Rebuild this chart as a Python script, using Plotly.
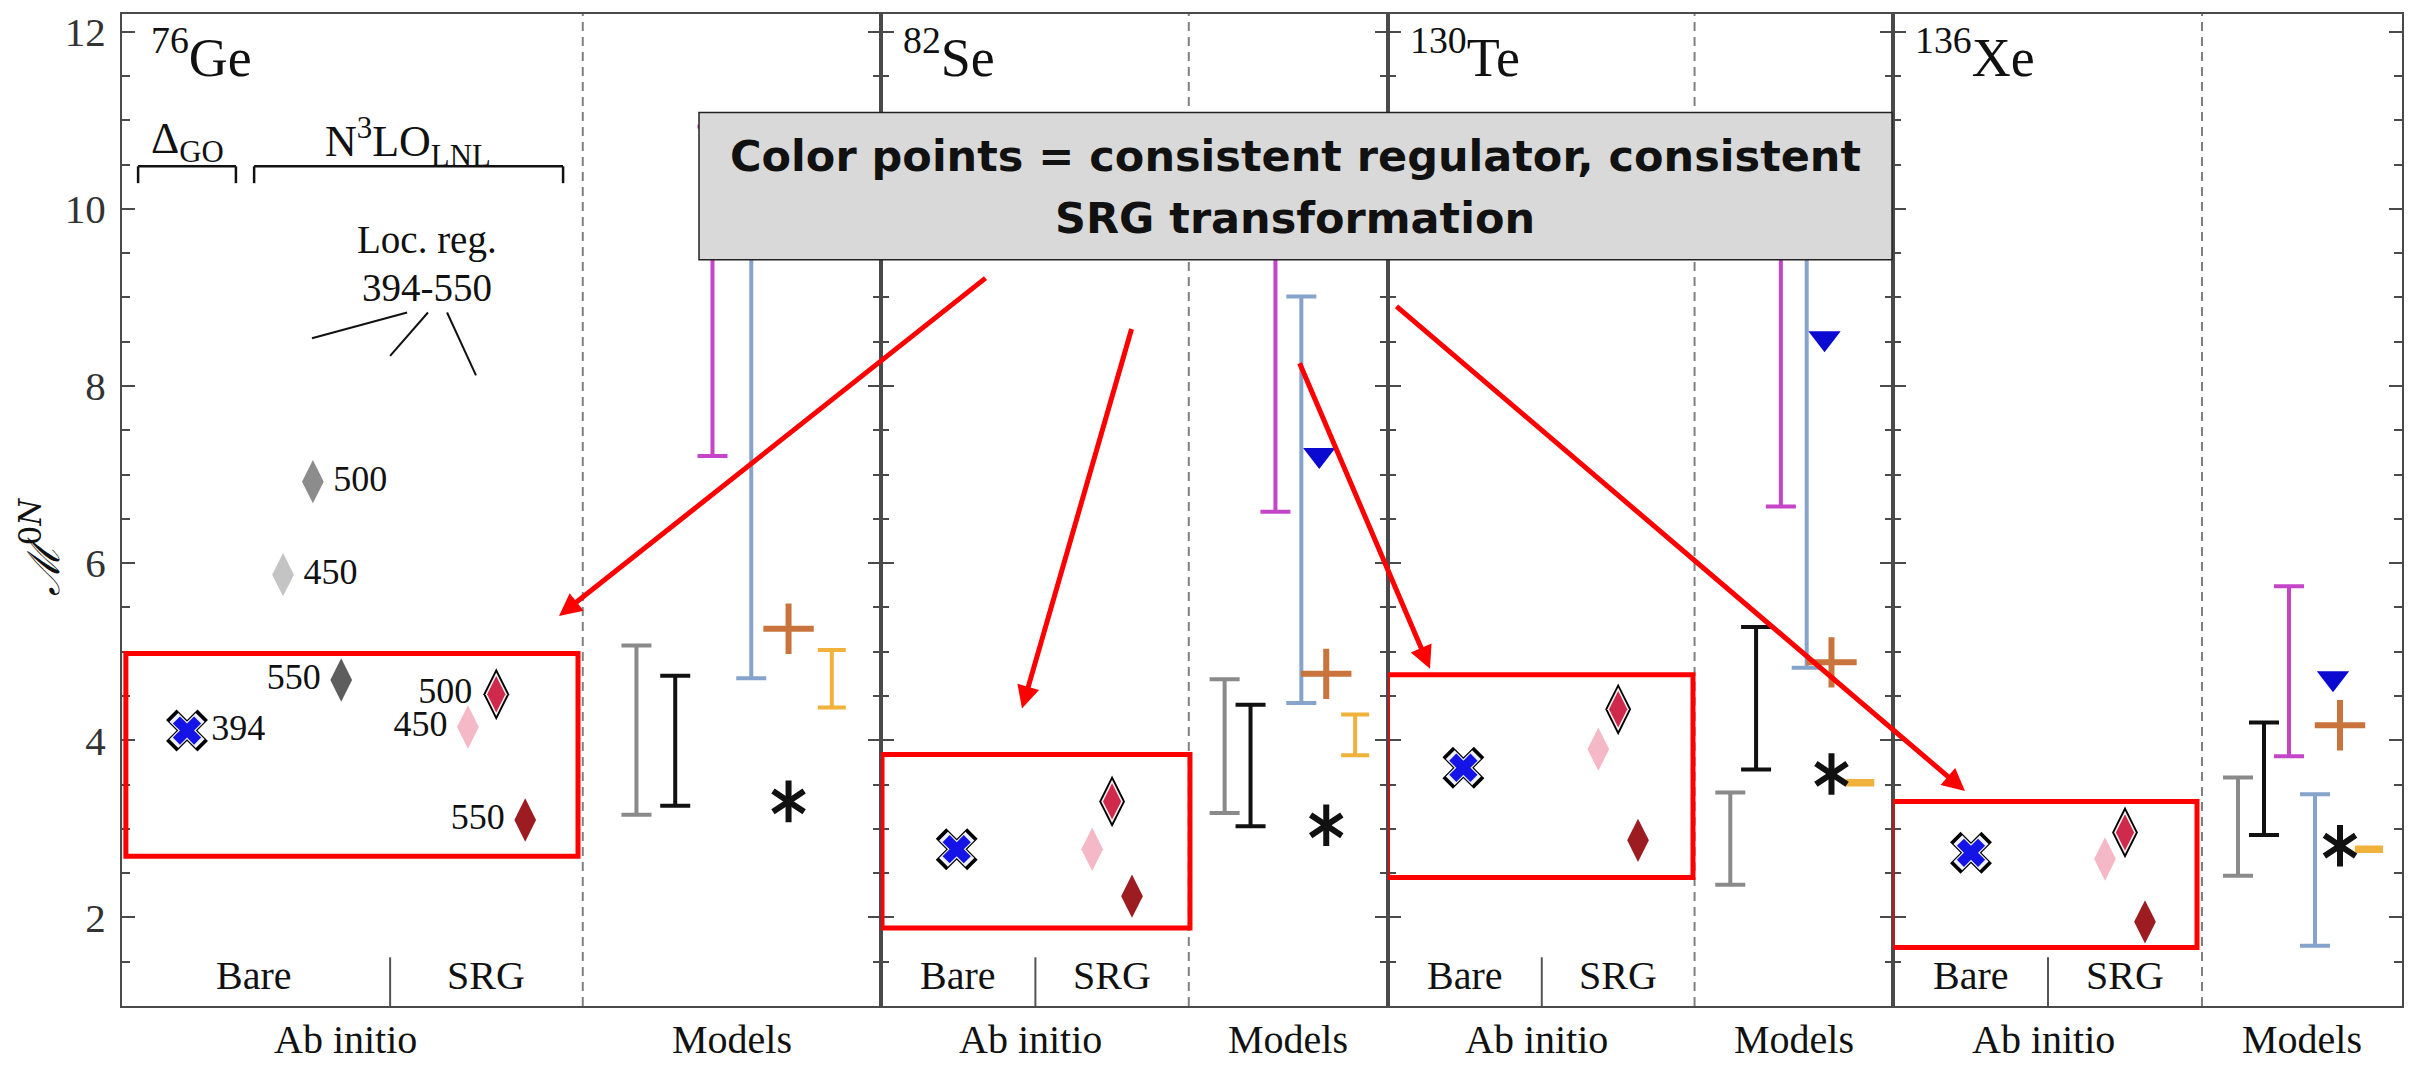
import plotly.graph_objects as go

# ---------------- data ----------------
nuclei = ["<sup>76</sup>Ge", "<sup>82</sup>Se", "<sup>130</sup>Te", "<sup>136</sup>Xe"]

# ab initio: bare Delta_GO (394) and SRG N3LO_LNL (450/500/550)
bare_394 = [4.11, 2.77, 3.69, 2.73]
srg_450 = [4.15, 2.77, 3.90, 2.66]
srg_500 = [4.52, 3.31, 4.35, 2.96]
srg_550 = [3.10, 2.24, 2.87, 1.95]
# 76Ge only: bare N3LO_LNL with local regulators
ge_bare_cutoff = ["450", "500", "550"]
ge_bare_value = [5.87, 6.92, 4.68]

# phenomenological models (ranges and single values)
gray_lo = [3.16, 3.18, 2.37, 2.47]
gray_hi = [5.07, 4.69, 3.41, 3.58]
black_lo = [3.26, 3.03, 3.67, 2.93]
black_hi = [4.73, 4.40, 5.28, 4.20]
magenta_lo = [7.21, 6.58, 6.64, 3.82]
magenta_hi = [10.93, 10.50, 10.50, 5.74]
steel_lo = [4.70, 4.42, 4.82, 1.68]
steel_hi = [10.60, 9.01, 10.50, 3.39]
yellow_lo = [4.37, 3.83, 3.50, 2.75]
yellow_hi = [5.02, 4.29, 3.54, 2.79]
triangle = [None, 7.22, 8.54, 4.70]
plus = [5.26, 4.75, 4.88, 4.17]
asterisk = [3.31, 3.04, 3.62, 2.81]

y_ticks = [2, 4, 6, 8, 10, 12]

# ---------------- layout constants ----------------
W, H = 2420, 1066
L, R, T, B = 122, 18, 9, 60
PW, PH = W - L - R, H - T - B
edges_px = [122, 881, 1388, 1893, 2402]
X_MAX, DIV = 2.545, 1.545
Y_RANGE = [1.0, 12.2]

# slot positions (x units inside each panel)
mod_off = dict(gray=0.18, black=0.31, magenta=0.435, steel=0.565, tri=0.655,
               plus=0.69, ast=0.69, yellow=0.835)
slots = [
    dict(b394=0.218, s450=1.160, s500=1.255, s550=1.352, bare_lab=0.443, srg_lab=1.22, sep=0.899),
    dict(b394=0.38, s450=1.06, s500=1.16, s550=1.26, bare_lab=0.387, srg_lab=1.16, sep=0.775),
    dict(b394=0.38, s450=1.06, s500=1.16, s550=1.26, bare_lab=0.387, srg_lab=1.16, sep=0.775),
    dict(b394=0.39, s450=1.06, s500=1.16, s550=1.26, bare_lab=0.39, srg_lab=1.16, sep=0.775),
]
ge_bare_x = [0.540, 0.640, 0.735]
ge_bare_col = ["#c4c4c4", "#8c8c8c", "#5e5e5e"]
ge_bare_pos = ["middle right", "middle right", "middle left"]
red_boxes = [(0.013, 1.529, 2.69, 4.98), (0.005, 1.551, 1.88, 3.84),
             (-0.005, 1.537, 2.45, 4.74), (-0.005, 1.52, 1.66, 3.31)]

C_GRAY, C_BLACK, C_MAG, C_STEEL = "#8a8a8a", "#111111", "#c545c8", "#86a3cc"
C_YEL, C_TRI, C_PLUS = "#f0b23a", "#0a0ad0", "#c8743c"
C_PINK, C_CRIM, C_DRED, C_BLUE = "#f5b8c6", "#cf2a4c", "#9c1c22", "#1414e6"
SERIF = "Liberation Serif"
AX = "#4a4a4a"

fig = go.Figure()


def axn(i):
    return ("x" if i == 0 else f"x{i+1}"), ("y" if i == 0 else f"y{i+1}")


def rng(i, x, lo, hi, color, width=15, thick=4):
    xa, ya = axn(i)
    mid = (lo + hi) / 2
    fig.add_trace(go.Scatter(
        x=[x], y=[mid], mode="markers", xaxis=xa, yaxis=ya,
        marker=dict(size=1, color="rgba(0,0,0,0)"),
        error_y=dict(type="data", symmetric=False, array=[hi - mid], arrayminus=[mid - lo],
                     color=color, thickness=thick, width=width),
        showlegend=False, hoverinfo="skip"))


def pt(i, x, y, symbol, size, color, line=None, text=None, tpos="middle right"):
    xa, ya = axn(i)
    kw = {}
    if text:
        kw = dict(text=[text], textposition=tpos,
                  textfont=dict(family=SERIF, size=36, color="#111"))
    fig.add_trace(go.Scatter(
        x=[x], y=[y], xaxis=xa, yaxis=ya,
        mode="markers+text" if text else "markers",
        marker=dict(symbol=symbol, size=size, color=color,
                    line=line or dict(width=0)),
        showlegend=False, hoverinfo="skip", **kw))


for i in range(4):
    s = slots[i]
    d0 = DIV
    # models
    rng(i, d0 + mod_off["gray"], gray_lo[i], gray_hi[i], C_GRAY)
    rng(i, d0 + mod_off["black"], black_lo[i], black_hi[i], C_BLACK)
    rng(i, d0 + mod_off["magenta"], magenta_lo[i], magenta_hi[i], C_MAG)
    rng(i, d0 + mod_off["steel"], steel_lo[i], steel_hi[i], C_STEEL)
    rng(i, d0 + mod_off["yellow"], yellow_lo[i], yellow_hi[i], C_YEL, width=14)
    if triangle[i] is not None:
        pt(i, d0 + mod_off["tri"], triangle[i], "triangle-down", 28, C_TRI)
    pt(i, d0 + mod_off["plus"], plus[i], "cross-thin", 36, C_PLUS, line=dict(width=6, color=C_PLUS))
    for sym in ("y-up", "y-down"):
        pt(i, d0 + mod_off["ast"], asterisk[i], sym, 26, C_BLACK, line=dict(width=6, color=C_BLACK))

    lab = i == 0
    # bare Delta_GO 394
    pt(i, s["b394"], bare_394[i], "x", 37, "#000", text="394" if lab else None)
    pt(i, s["b394"], bare_394[i], "x", 31, "#eef0ff")
    pt(i, s["b394"], bare_394[i], "x", 25, C_BLUE)
    # SRG
    pt(i, s["s450"], srg_450[i], "diamond-tall", 31, C_PINK,
       text="450" if lab else None, tpos="middle left")
    pt(i, s["s550"], srg_550[i], "diamond-tall", 31, C_DRED,
       text="550" if lab else None, tpos="middle left")
    pt(i, s["s500"], srg_500[i], "diamond-tall", 37, "#000",
       text="500" if lab else None, tpos="middle left")
    pt(i, s["s500"], srg_500[i], "diamond-tall", 31, "#fff0f2")
    pt(i, s["s500"], srg_500[i], "diamond-tall", 26, C_CRIM)

# 76Ge bare local-regulator points
for k in range(3):
    pt(0, ge_bare_x[k], ge_bare_value[k], "diamond-tall", 31, ge_bare_col[k],
       text=ge_bare_cutoff[k], tpos=ge_bare_pos[k])

# ---------------- axes ----------------
lay = dict(width=W, height=H, margin=dict(l=L, r=R, t=T, b=B),
           paper_bgcolor="white", plot_bgcolor="white", showlegend=False)
for i in range(4):
    xa, ya = axn(i)
    dom = [(edges_px[i] - L) / PW, (edges_px[i + 1] - L) / PW]
    lay["xaxis" if i == 0 else f"xaxis{i+1}"] = dict(
        domain=dom, range=[0, X_MAX], anchor=ya, showline=True, mirror=True,
        linecolor=AX, linewidth=2, ticks="", showticklabels=False,
        showgrid=False, zeroline=False, fixedrange=True)
    yd = dict(domain=[0, 1], range=Y_RANGE, anchor=xa, showline=True, mirror="ticks",
              linecolor=AX, linewidth=2, ticks="inside", ticklen=13, tickwidth=2,
              tickcolor=AX, tickvals=y_ticks, showgrid=False, zeroline=False,
              minor=dict(ticks="inside", ticklen=8, tickwidth=1.5, tickcolor=AX, dtick=0.5),
              showticklabels=(i == 0), ticklabelstandoff=6,
              tickfont=dict(family=SERIF, size=41, color="#333"))
    if i > 0:
        yd["matches"] = "y"
    lay["yaxis" if i == 0 else f"yaxis{i+1}"] = yd
fig.update_layout(**lay)

shapes, ann = [], []


def note(text, xref, yref, x, y, size=40, family=SERIF, **kw):
    d = dict(xref=xref, yref=yref, x=x, y=y, text=text, showarrow=False,
             xanchor="center", yanchor="middle",
             font=dict(family=family, size=size, color="#111"))
    d.update(kw)
    ann.append(d)


for i in range(4):
    xa, ya = axn(i)
    s = slots[i]
    shapes.append(dict(type="line", xref=xa, yref=f"{ya} domain", x0=DIV, x1=DIV, y0=0, y1=1,
                       line=dict(color="#808080", width=2, dash="9px,6px")))
    shapes.append(dict(type="line", xref=xa, yref=ya, x0=s["sep"], x1=s["sep"], y0=1.0, y1=1.55,
                       line=dict(color="#555", width=2)))
    bx = red_boxes[i]
    shapes.append(dict(type="rect", xref=xa, yref=ya, x0=bx[0], x1=bx[1], y0=bx[2], y1=bx[3],
                       line=dict(color="#ff0000", width=5), fillcolor="rgba(0,0,0,0)", layer="above"))
    note(nuclei[i], xa, ya, 0.1 if i else 0.09, 11.75, size=54, xanchor="left")
    note("Bare", xa, ya, s["bare_lab"], 1.35)
    note("SRG", xa, ya, s["srg_lab"], 1.35)
    note("Ab initio", xa, "paper", 0.75, -0.034)
    note("Models", xa, "paper", DIV + 0.5, -0.034)

# 76Ge brackets and regulator note
blk = dict(color="#111", width=2.5)
for x0, x1 in [(0.054, 0.382), (0.443, 1.479)]:
    shapes.append(dict(type="line", xref="x", yref="y", x0=x0, x1=x1, y0=10.48, y1=10.48, line=blk))
    for xx in (x0, x1):
        shapes.append(dict(type="line", xref="x", yref="y", x0=xx, x1=xx, y0=10.48, y1=10.29, line=blk))
for (x0, y0, x1, y1) in [(0.956, 8.83, 0.637, 8.54), (1.026, 8.83, 0.899, 8.34), (1.090, 8.83, 1.187, 8.12)]:
    shapes.append(dict(type="line", xref="x", yref="y", x0=x0, x1=x1, y0=y0, y1=y1,
                       line=dict(color="#111", width=2)))
note("Δ<sub>GO</sub>", "x", "y", 0.218, 10.76, size=44)
note("N<sup>3</sup>LO<sub>LNL</sub>", "x", "y", 0.959, 10.76, size=44)
note("Loc. reg.", "x", "y", 1.023, 9.65, size=39)
note("394-550", "x", "y", 1.023, 9.11, size=39)

# y-axis title
note("<i>ℳ</i><sup>0<i>N</i></sup>", "paper", "paper", (40 - L) / PW, (1006 - 545) / PH,
     size=44, family="DejaVu Serif", textangle=-90)


def px(xp, yp):
    return (xp - L) / PW, (1006 - yp) / PH


# call-out box
bx0, by0 = px(699, 256)
bx1, by1 = px(1892, 108)
shapes.append(dict(type="rect", xref="paper", yref="paper", x0=bx0, x1=bx1, y0=by0, y1=by1,
                   fillcolor="#d9d9d9", line=dict(color="#222", width=1.5), layer="above"))
cx, cy1 = px(1295, 152)
_, cy2 = px(1295, 214)
note("<b>Color points = consistent regulator, consistent</b>", "paper", "paper", cx, cy1,
     size=43, family="DejaVu Sans")
note("<b>SRG transformation</b>", "paper", "paper", cx, cy2, size=43, family="DejaVu Sans")

# red arrows (head, tail) in pixels
for (hx, hy, tx, ty) in [(559, 614, 987, 275), (1022, 707, 1132, 326),
                         (1430, 667, 1299, 360), (1965, 790, 1395, 304)]:
    xh, yh = px(hx, hy)
    ann.append(dict(xref="paper", yref="paper", x=xh, y=yh, ax=tx - hx, ay=ty - hy,
                    text="", showarrow=True, arrowcolor="#ff0000", arrowwidth=5,
                    arrowhead=2, arrowsize=0.9, standoff=0))

fig.update_layout(shapes=shapes, annotations=ann)
fig.write_html("out.html")
